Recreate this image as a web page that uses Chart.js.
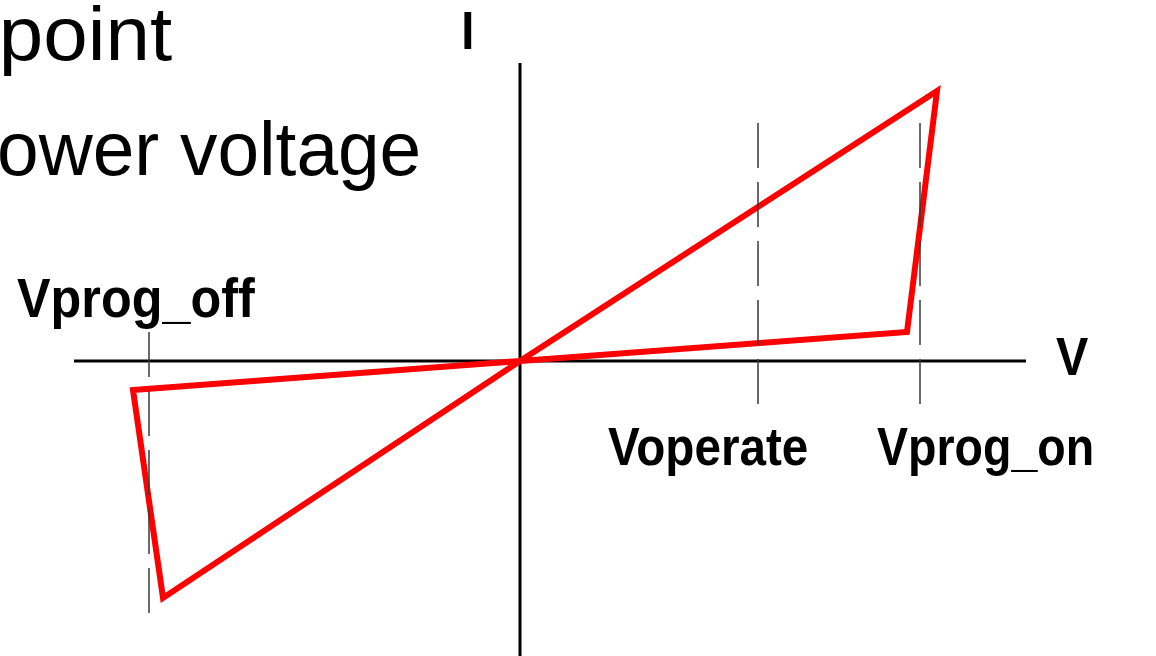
<!DOCTYPE html>
<html>
<head>
<meta charset="utf-8">
<title>I-V hysteresis</title>
<script src="https://cdn.jsdelivr.net/npm/chart.js@4.4.0/dist/chart.umd.min.js"></script>
<style>
    html, body { margin: 0; padding: 0; background: #ffffff; overflow: hidden; }
    #chart { display: block; }
</style>
</head>
<body>
<canvas id="chart" width="1156" height="656"></canvas>
<script>
// Loop of the I-V curve (V, I) in arbitrary units, origin at the axes crossing
const loopV = [0, 3.87, 4.17, 0, -3.57, -3.87, 0];
const loopI = [0, 0.29, 2.70, 0, -2.37, -0.29, 0];

// Marker voltages and the span of their dashed guides
const markerNames = ['Vprog_off', 'Voperate', 'Vprog_on'];
const markerV = [-3.71, 2.38, 4.00];
const markerTop = [0.29, 2.38, 2.38];
const markerBottom = [-2.52, -0.46, -0.46];

// Axes extents
const axisV = [-4.46, 5.06];
const axisI = [2.98, -2.95];

// View window
const viewV = [-5.20, 6.36];
const viewI = [-2.95, 3.61];

document.addEventListener('DOMContentLoaded', () => {
    const toXY = (xs, ys) => xs.map((x, i) => ({ x: x, y: ys[i] }));

    const datasets = [];

    // dashed guide lines (on top)
    markerV.forEach((v, i) => {
        datasets.push({
            label: markerNames[i],
            data: [{ x: v, y: markerTop[i] }, { x: v, y: markerBottom[i] }],
            borderColor: '#3a3a3a',
            borderWidth: 1.5,
            borderDash: [45, 14],
            order: 0
        });
    });

    datasets.push({
        label: 'I-V loop',
        data: toXY(loopV, loopI),
        borderColor: '#ff0000',
        borderWidth: 6,
        borderJoinStyle: 'miter',
        order: 1
    });

    datasets.push({
        label: 'V axis',
        data: [{ x: axisV[0], y: 0 }, { x: axisV[1], y: 0 }],
        borderColor: '#000000',
        borderWidth: 3,
        order: 2
    });
    datasets.push({
        label: 'I axis',
        data: [{ x: 0, y: axisI[0] }, { x: 0, y: axisI[1] }],
        borderColor: '#000000',
        borderWidth: 3,
        order: 2
    });

    datasets.forEach(d => {
        d.showLine = true;
        d.fill = false;
        d.tension = 0;
        d.pointRadius = 0;
        d.borderCapStyle = 'butt';
    });

    // text placed by its visible box: left, right, baseline
    const texts = [
        { t: 'point', font: '400 76px "Liberation Sans", Arial, sans-serif', l: 3, r: 172, b: 60 },
        { t: 'ower voltage', font: '400 76px "Liberation Sans", Arial, sans-serif', l: 0, r: 418, b: 175 },
        { t: 'I', font: 'bold 53px "Liberation Sans", Arial, sans-serif', l: 464, r: 472, b: 49 },
        { t: markerNames[0], font: 'bold 56px "Liberation Sans", Arial, sans-serif', l: 17, r: 255, b: 317 },
        { t: markerNames[1], font: 'bold 53px "Liberation Sans", Arial, sans-serif', l: 608, r: 807, b: 465 },
        { t: markerNames[2], font: 'bold 53px "Liberation Sans", Arial, sans-serif', l: 877, r: 1092, b: 465 },
        { t: 'V', font: 'bold 53px "Liberation Sans", Arial, sans-serif', l: 1056, r: 1088, b: 375 }
    ];

    const labelPlugin = {
        id: 'labels',
        afterDraw(chart) {
            const ctx = chart.ctx;
            texts.forEach(item => {
                ctx.save();
                ctx.font = item.font;
                ctx.fillStyle = '#000000';
                ctx.textBaseline = 'alphabetic';
                ctx.textAlign = 'left';
                const m = ctx.measureText(item.t);
                const w = m.actualBoundingBoxRight + m.actualBoundingBoxLeft;
                const sx = (item.r - item.l) / w;
                ctx.translate(item.l, item.b);
                ctx.scale(sx, 1);
                ctx.fillText(item.t, m.actualBoundingBoxLeft, 0);
                ctx.restore();
            });
        }
    };

    new Chart(document.getElementById('chart').getContext('2d'), {
        type: 'scatter',
        data: { datasets: datasets },
        options: {
            responsive: false,
            animation: false,
            layout: { padding: 0 },
            scales: {
                x: { type: 'linear', min: viewV[0], max: viewV[1], display: false },
                y: { type: 'linear', min: viewI[0], max: viewI[1], display: false }
            },
            plugins: {
                legend: { display: false },
                tooltip: { enabled: false }
            }
        },
        plugins: [labelPlugin]
    });
});
</script>
</body>
</html>
